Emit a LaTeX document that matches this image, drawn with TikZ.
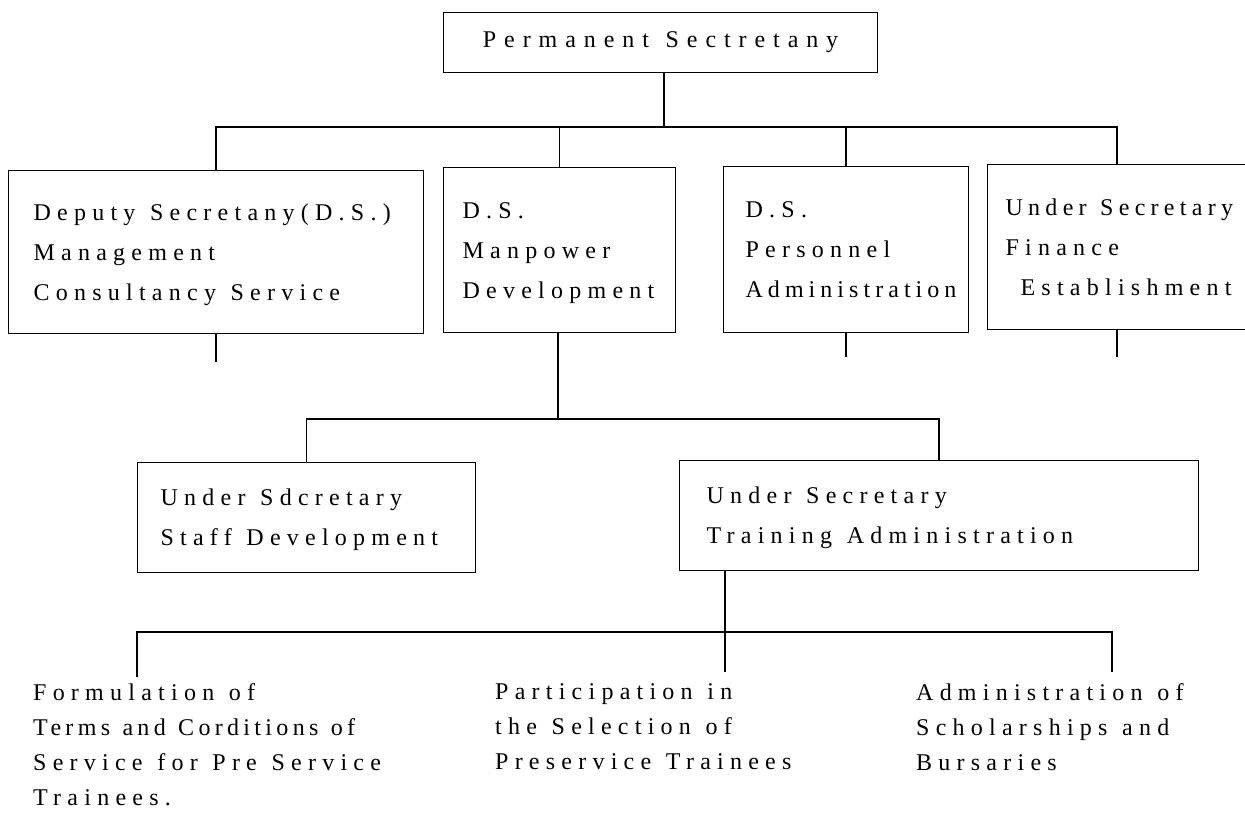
\documentclass[tikz,border=0pt]{standalone}
\usepackage{fontspec}
\setmainfont{Liberation Serif}[LetterSpace=26, WordSpace=1.2]
% stack of left-aligned lines, one per row, with the font's own word spaces
\newcommand{\lines}[1]{\spaceskip=0pt\xspaceskip=0pt\relax
  \begin{tabular}{@{}l@{}}#1\end{tabular}}
% a line set with its own tracking
\newcommand{\tracked}[2]{{\addfontfeature{LetterSpace=#1}#2}}
\begin{document}
\begin{tikzpicture}[x=1pt,y=-1pt,
  box/.style={draw, line width=1.2pt, anchor=north west, align=left,
    font=\fontsize{24}{40}\selectfont, inner ysep=0pt},
  link/.style={line width=1.7pt},
  leaf/.style={anchor=north west, align=left, inner sep=0pt,
    font=\fontsize{24}{35}\selectfont}]
\useasboundingbox (0,0) rectangle (1245,840);

% top level
\node[box, align=center, minimum width=434pt, minimum height=60pt]
  (ps) at (443,12) {\tracked{33}{Permanent Sectretany}};

% deputy secretaries
\node[box, text width=365pt, inner xsep=25pt, minimum height=163pt]
  (ds1) at (8,170) {\lines{Deputy Secretany(D.S.)\\Management\\Consultancy Service}};
\node[box, text width=194pt, inner xsep=19pt, minimum height=165pt]
  (ds2) at (443,167) {\lines{D.S.\\Manpower\\Development}};
\node[box, text width=201pt, inner xsep=22pt, minimum height=166pt]
  (ds3) at (723,166) {\lines{D.S.\\Personnel\\\tracked{21}{Administration}}};
\node[box, text width=264pt, inner xsep=18pt, minimum height=165pt]
  (usf) at (987,164) {\lines{\tracked{22}{Under Secretary}\\Finance\\\hspace*{15pt}Establishment}};

% under secretaries of manpower development
\node[box, text width=292pt, inner xsep=23pt, minimum height=110pt]
  (uss) at (137,462) {\lines{Under Sdcretary\\Staff Development}};
\node[box, text width=465pt, inner xsep=27pt, minimum height=110pt]
  (ust) at (679,460) {\lines{Under Secretary\\Training Administration}};

% functions of training administration
\node[leaf] (f1) at (33,683)
  {Formulation of\\\tracked{18}{Terms and Corditions of}\\Service for Pre Service\\Trainees.};
\node[leaf] (f2) at (495,683)
  {Participation in\\the Selection of\\Preservice Trainees};
\node[leaf] (f3) at (916,683)
  {Administration of\\Scholarships and\\Bursaries};

% junctions and free ends
\coordinate (j1) at (664,127);
\coordinate (fdrop) at (1117,164);
\coordinate (e1) at (213,362);
\coordinate (e3) at (845,357);
\coordinate (e4) at (1117,357);
\coordinate (j2) at (558,419);
\coordinate (j3) at (725,632);
\coordinate (d1) at (137,677);
\coordinate (d2) at (725,672);
\coordinate (d3) at (1112,672);

% connectors
\draw[link] (ps.south -| j1) -- (j1);
\draw[link] (ds1.north) |- (j1) -| (fdrop);
\draw[link] (ds2.north) -- (ds2.north |- j1);
\draw[link] (ds3.north) -- (ds3.north |- j1);
\draw[link] (ds1.south) -- (ds1.south |- e1);
\draw[link] (ds3.south) -- (ds3.south |- e3);
\draw[link] (fdrop |- usf.south) -- (e4);
\draw[link] (ds2.south -| j2) -- (j2);
\draw[link] (uss.north) |- (j2) -| (ust.north);
\draw[link] (ust.south -| j3) -- (d2);
\draw[link] (d1) |- (j3) -| (d3);
\end{tikzpicture}
\end{document}
